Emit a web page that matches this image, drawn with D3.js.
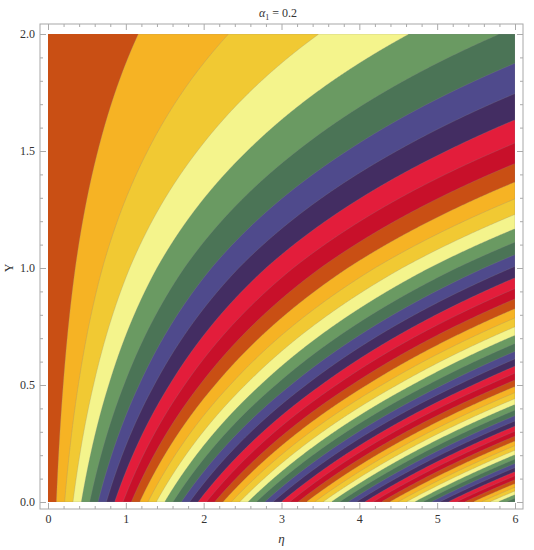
<!DOCTYPE html>
<html lang="en">
<head>
  <meta charset="UTF-8">
  <title>alpha1 = 0.2</title>
  <script src="https://d3js.org/d3.v7.min.js"></script>
  <style>
    body { margin: 0; background: #fff; }
    svg text { font-family: "Liberation Serif", "DejaVu Serif", serif !important; fill: #333; }
    .tick line { stroke: #aaa; }
  </style>
</head>
<body>
  <div id="chart"></div>
  <script>
    // Width of one contour step along eta at several heights Y
    const yRows = [0, 0.5, 1, 1.5, 2];
    const bandStep = [0.107, 0.195, 0.35, 0.64, 1.16];

    // Contour levels (in units of one band step)
    const levels = [1, 2, 3, 4, 5, 6, 7, 8, 9, 10, 11, 12, 13, 14, 15, 16, 17, 18, 19, 20,
                    21, 22, 23, 24, 25, 26, 27, 28, 29, 30, 31, 32, 33, 34, 35, 36, 37, 38, 39, 40,
                    41, 42, 43, 44, 45, 46, 47, 48, 49, 50, 51, 52, 53, 54, 55, 56, 57, 58];

    // Band colours, repeating
    const palette = ["#c94f14", "#f6b324", "#f1c933", "#f4f48c", "#6a9a62",
                     "#4b7456", "#4f4a8c", "#432d62", "#e31d3b", "#c8102a"];

    const xTicks = [0, 1, 2, 3, 4, 5, 6];
    const yTicks = [0, 0.5, 1, 1.5, 2];

    const width = 534, height = 550;
    const plot = { left: 48, right: 515, top: 34, bottom: 502 };
    const frame = { left: 40, right: 523, top: 24, bottom: 509 };
    const serif = '"Liberation Serif", "DejaVu Serif", serif';

    const svg = d3.select("#chart").append("svg")
      .attr("width", width)
      .attr("height", height);

    const x = d3.scaleLinear().domain([0, 6]).range([plot.left, plot.right]);
    const y = d3.scaleLinear().domain([0, 2]).range([plot.bottom, plot.top]);

    // sample grid
    const nx = plot.right - plot.left, ny = plot.bottom - plot.top;
    const gx = d3.scaleLinear().domain([0, nx]).range([plot.left, plot.right]);
    const gy = d3.scaleLinear().domain([0, ny]).range([plot.top, plot.bottom]);

    const logStep = d3.scaleLinear().domain(yRows).range(bandStep.map(Math.log));

    const values = new Float64Array(nx * ny);
    for (let j = 0; j < ny; j++) {
      const Y = y.invert(gy(j + 0.5));
      const step = Math.exp(logStep(Y));
      for (let i = 0; i < nx; i++) {
        const eta = x.invert(gx(i + 0.5));
        values[j * nx + i] = eta / step;
      }
    }

    const contours = d3.contours().size([nx, ny]).thresholds(levels)(values);

    const path = d3.geoPath(d3.geoTransform({
      point(px, py) { this.stream.point(gx(px), gy(py)); }
    }));

    svg.append("clipPath").attr("id", "clip")
      .append("rect")
      .attr("x", plot.left).attr("y", plot.top)
      .attr("width", plot.right - plot.left).attr("height", plot.bottom - plot.top);

    const g = svg.append("g").attr("clip-path", "url(#clip)");

    g.append("rect")
      .attr("x", plot.left).attr("y", plot.top)
      .attr("width", plot.right - plot.left).attr("height", plot.bottom - plot.top)
      .attr("fill", palette[0]);

    g.selectAll("path.band")
      .data(contours)
      .join("path")
      .attr("class", "band")
      .attr("d", path)
      .attr("fill", (d, i) => palette[(i + 1) % palette.length])
      .attr("stroke", "#8a8a8a")
      .attr("stroke-opacity", 0.45)
      .attr("stroke-width", 0.6);

    // frame
    svg.append("rect")
      .attr("x", frame.left).attr("y", frame.top)
      .attr("width", frame.right - frame.left).attr("height", frame.bottom - frame.top)
      .attr("fill", "none")
      .attr("stroke", "#a8a8a8")
      .attr("stroke-width", 1);

    const xMinor = d3.range(0, 6.01, 0.2).filter(v => Math.abs(v - Math.round(v)) > 1e-6);
    const yMinor = d3.range(0, 2.01, 0.1).filter(v => Math.abs(v * 2 - Math.round(v * 2)) > 1e-6);

    function tickAxis(axis, transform) {
      const a = svg.append("g").attr("transform", transform).call(axis)
        .attr("font-family", serif).attr("font-size", 12);
      a.select(".domain").remove();
      a.selectAll("text").style("font-family", serif).style("font-size", "12px");
      return a;
    }

    // bottom
    tickAxis(d3.axisBottom(x).tickValues(xTicks).tickSize(-6).tickPadding(5).tickFormat(d3.format("d")),
      `translate(0,${frame.bottom})`);
    tickAxis(d3.axisBottom(x).tickValues(xMinor).tickSize(-3).tickFormat(""),
      `translate(0,${frame.bottom})`);
    // top
    tickAxis(d3.axisTop(x).tickValues(xTicks).tickSize(-6).tickFormat(""),
      `translate(0,${frame.top})`);
    tickAxis(d3.axisTop(x).tickValues(xMinor).tickSize(-3).tickFormat(""),
      `translate(0,${frame.top})`);
    // left
    tickAxis(d3.axisLeft(y).tickValues(yTicks).tickSize(-6).tickPadding(5).tickFormat(d3.format(".1f")),
      `translate(${frame.left},0)`);
    tickAxis(d3.axisLeft(y).tickValues(yMinor).tickSize(-3).tickFormat(""),
      `translate(${frame.left},0)`);
    // right
    tickAxis(d3.axisRight(y).tickValues(yTicks).tickSize(-6).tickFormat(""),
      `translate(${frame.right},0)`);
    tickAxis(d3.axisRight(y).tickValues(yMinor).tickSize(-3).tickFormat(""),
      `translate(${frame.right},0)`);

    // title
    const title = svg.append("text")
      .attr("x", 278).attr("y", 17)
      .attr("text-anchor", "middle")
      .style("font-family", serif)
      .style("font-size", "12px");
    title.append("tspan").style("font-style", "italic").text("α");
    title.append("tspan").attr("dy", 3).style("font-size", "8px").text("1");
    title.append("tspan").attr("dy", -3).text(" = 0.2");

    // axis labels
    svg.append("text")
      .attr("x", (plot.left + plot.right) / 2).attr("y", 543)
      .attr("text-anchor", "middle")
      .style("font-family", serif)
      .style("font-size", "13px")
      .style("font-style", "italic")
      .text("η");

    svg.append("text")
      .attr("transform", `translate(13,${y(1)}) rotate(-90)`)
      .attr("text-anchor", "middle")
      .style("font-family", serif)
      .style("font-size", "12px")
      .text("Y");
  </script>
</body>
</html>
